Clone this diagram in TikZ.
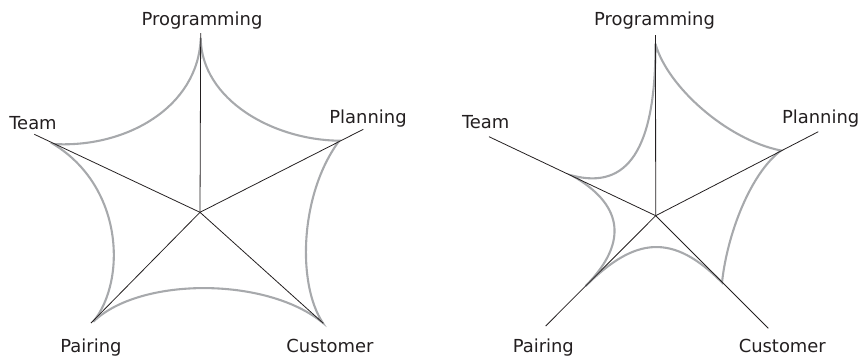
\documentclass[tikz,border=0pt]{standalone}
\usepackage{fontspec}
\setmainfont{DejaVu Sans}
\definecolor{webgray}{RGB}{167,169,172}
\definecolor{ink}{RGB}{35,31,32}
\tikzstyle{axis} = [draw=ink, line width=0.8pt]
\tikzstyle{web} = [draw=webgray, line width=2.1pt, line cap=round]
\tikzstyle{tag} = [font=\fontsize{18}{20}\selectfont, text=ink, inner sep=0pt, anchor=base]

\begin{document}
\begin{tikzpicture}[x=1bp, y=-1bp]
\useasboundingbox (0,0) rectangle (868,357);

% left chart: axis ends and values
\coordinate (lc) at (200,212.3);
\coordinate (lprog) at (200.7,33);
\coordinate (lplan) at (363.3,129.3);
\coordinate (lcust) at (323.3,323.3);
\coordinate (lpair) at (91,323);
\coordinate (lteam) at (34.3,134.3);
\coordinate (lvprog) at (200.7,38.3);
\coordinate (lvplan) at (339.3,140.7);
\coordinate (lvcust) at (322.7,322.7);
\coordinate (lvpair) at (93.3,321.7);
\coordinate (lvteam) at (53.3,144);

\draw [web] (lvprog) .. controls (201.7,100) and (273.3,140) .. (lvplan)
  .. controls (300,193.3) and (296.7,283.3) .. (lvcust)
  .. controls (266.7,276.7) and (140,276.7) .. (lvpair)
  .. controls (126.7,280) and (123.3,186.7) .. (lvteam)
  .. controls (126.7,148.3) and (198.3,106.7) .. (lvprog);

\foreach \e in {lprog, lplan, lcust, lpair, lteam}
  \draw [axis] (lc) -- (\e);

\node (lprogtag) [tag] at (202,25) {Programming};
\node (lplantag) [tag] at (368,123) {Planning};
\node (lteamtag) [tag] at (33,129) {Team};
\node (lpairtag) [tag] at (91,352.7) {Pairing};
\node (lcusttag) [tag] at (330,352.7) {Customer};

% right chart
\coordinate (rc) at (655.7,215.7);
\coordinate (rprog) at (655.5,35);
\coordinate (rplan) at (818.3,131.7);
\coordinate (rcust) at (768.3,328.3);
\coordinate (rpair) at (545.7,326);
\coordinate (rteam) at (489,136.7);
\coordinate (rvprog) at (655.5,44);
\coordinate (rvplan) at (781,150.5);
\coordinate (rvcust) at (722,282.5);
\coordinate (rvpair) at (585.7,286);
\coordinate (rvteam) at (572,175.5);

\draw [web] (rvprog) .. controls (667.3,86.7) and (727.3,140) .. (rvplan)
  .. controls (750.7,173.3) and (727.3,233.3) .. (rvcust)
  .. controls (673.3,233.3) and (635.7,236) .. (rvpair)
  .. controls (630.7,240) and (620.7,203.3) .. (rvteam)
  .. controls (627.3,190) and (655.7,150) .. (rvprog);

\foreach \e in {rprog, rplan, rcust, rpair, rteam}
  \draw [axis] (rc) -- (\e);

\node (rprogtag) [tag] at (654.5,25) {Programming};
\node (rplantag) [tag] at (820.7,123) {Planning};
\node (rteamtag) [tag] at (485.7,128.7) {Team};
\node (rpairtag) [tag] at (543.3,352.7) {Pairing};
\node (rcusttag) [tag] at (782.3,352.7) {Customer};
\end{tikzpicture}
\end{document}
